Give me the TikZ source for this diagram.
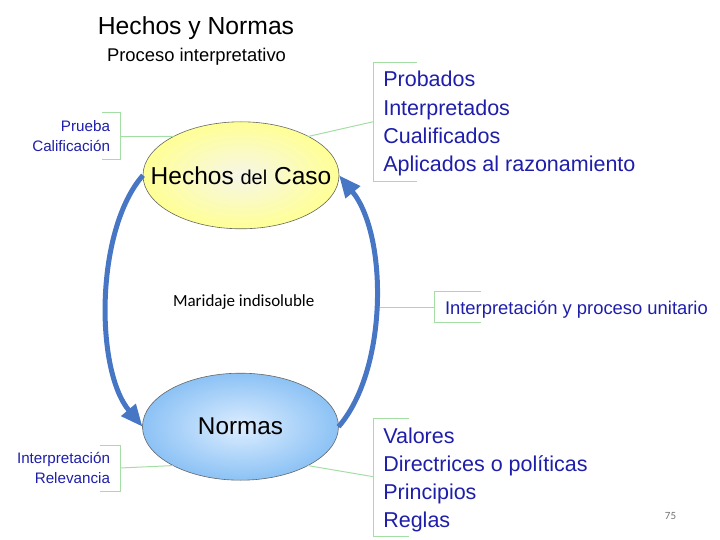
\documentclass[tikz,border=0pt]{standalone}
\usepackage{fontspec}
\setmainfont{Liberation Sans}
\newfontfamily\carlito{Carlito}
\usetikzlibrary{shapes.geometric,arrows.meta}
\definecolor{lblue}{RGB}{30,30,170}
\definecolor{brgreen}{RGB}{165,222,165}
\definecolor{arrblue}{RGB}{70,118,196}
\definecolor{hyel}{RGB}{255,255,150}
\definecolor{hyelin}{RGB}{246,246,232}
\definecolor{nblue}{RGB}{140,194,245}
\definecolor{nbluein}{RGB}{220,237,255}
\begin{document}
\begin{tikzpicture}[x=1pt,y=-1pt,
  every node/.style={inner sep=0pt, outer sep=0pt},
  oval/.style={ellipse, draw=black!60, line width=0.6pt, minimum width=196pt, minimum height=107pt, shading=radial},
  lst/.style={text=lblue, anchor=base west, font=\fontsize{21.5}{26}\selectfont},
  sml/.style={text=lblue, anchor=base east, font=\fontsize{15.2}{18}\selectfont},
  brk/.style={draw=brgreen, line width=1pt},
  flow/.style={draw=arrblue, line width=5pt, -{Triangle[length=22pt,width=18pt]}}
]
\useasboundingbox (0,0) rectangle (720,540);

% title
\node[anchor=base, font=\fontsize{24.7}{28}\selectfont] (title) at (196,35) {Hechos y Normas};
\node[anchor=base, font=\fontsize{18.4}{22}\selectfont] (sub) at (196.5,61.7) {Proceso interpretativo};

% ellipses
\node[oval, inner color=hyelin, outer color=hyel] (H) at (241,175.3)
  {\makebox[0pt]{\fontsize{24.5}{28}\selectfont Hechos {\fontsize{20}{24}\selectfont del} Caso}};
\node[oval, inner color=nbluein, outer color=nblue] (N) at (240.5,426.7)
  {\makebox[0pt]{\fontsize{24.3}{28}\selectfont Normas}};

% left top labels
\node[sml] (prueba) at (110,131.7) {Prueba};
\node[sml] (calif) at (110,151.7) {Calificación};
\draw[brk] (102,112.7) -- (120,112.7) -- (120,159.3) -- (102,159.3);
\coordinate (bl1) at (120,136.7);
\draw[brk] (bl1) -- (H.150);

% right top list
\node[lst] (p1) at (383.3,86.7) {Probados};
\node[lst] (p2) at (383.3,115.1) {Interpretados};
\node[lst] (p3) at (383.3,143.5) {Cualificados};
\node[lst] (p4) at (383.3,171.9) {Aplicados al razonamiento};
\draw[brk] (417,62.3) -- (373.3,62.3) -- (373.3,181.7) -- (417,181.7);
\coordinate (br1) at (373.3,121.7);
\draw[brk] (br1) -- (H.30);

% unitary
\node[text=lblue, anchor=base west, font=\fontsize{18.4}{22}\selectfont] (uni) at (445,314) {Interpretación y proceso unitario};
\draw[brk] (481,291.7) -- (434,291.7) -- (434,322.3) -- (481,322.3);
\coordinate (bu) at (434,307.3);
\coordinate (bue) at (375,307.3);
\draw[brk] (bu) -- (bue);

% bottom left labels
\node[sml] (interp) at (110,463.3) {Interpretación};
\node[sml] (relev) at (110,483.3) {Relevancia};
\draw[brk] (100,445) -- (120,445) -- (120,491.7) -- (100,491.7);
\coordinate (bl2) at (120,468);
\draw[brk] (bl2) -- (N.210);

% bottom right list
\node[lst] (v1) at (383.3,443.3) {Valores};
\node[lst] (v2) at (383.3,471.4) {Directrices o políticas};
\node[lst] (v3) at (383.3,499.5) {Principios};
\node[lst] (v4) at (383.3,527.6) {Reglas};
\draw[brk] (409,418.3) -- (373.3,418.3) -- (373.3,536.7) -- (409,536.7);
\coordinate (br2) at (373.3,476.7);
\draw[brk] (br2) -- (N.330);

% arrows
\draw[flow] (H.west) .. controls (95,230) and (95,370) .. (N.west);
\draw[flow] (N.east) .. controls (388,370) and (388,235) .. (H.east);

% center text
\node[anchor=base, font=\carlito\fontsize{17}{20}\selectfont] (mar) at (243.7,306.7) {Maridaje indisoluble};

% page number
\node[anchor=base, text=black!55, font=\carlito\fontsize{11}{13}\selectfont] (pg) at (670.5,519) {75};
\end{tikzpicture}
\end{document}
